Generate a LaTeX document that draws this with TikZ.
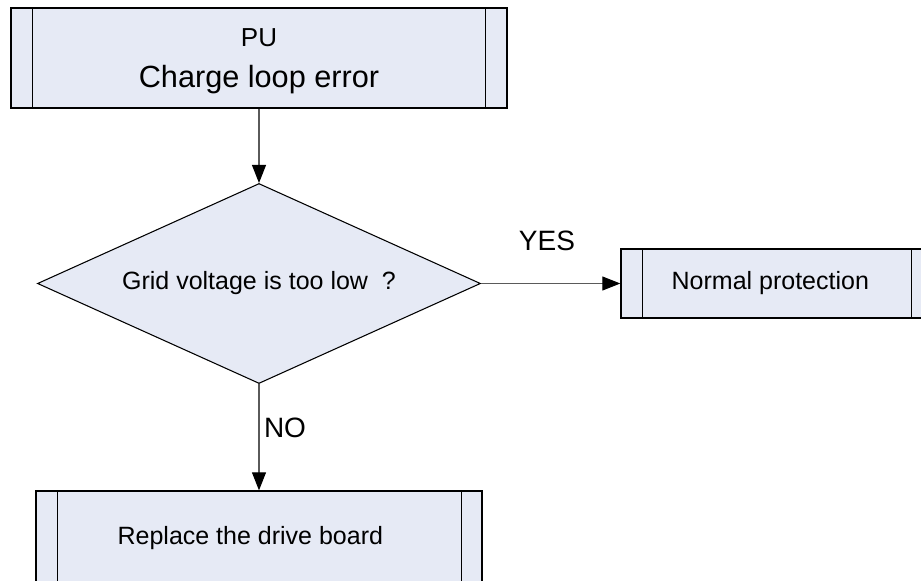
\documentclass[tikz,border=0pt]{standalone}
\usepackage{fontspec}
\setmainfont{Liberation Sans}
\usetikzlibrary{shapes.geometric,arrows.meta}
\definecolor{boxfill}{HTML}{E6EAF5}
\definecolor{linegray}{HTML}{5A5A5A}
\begin{document}
\begin{tikzpicture}[x=0.75pt,y=-0.75pt,
  procbox/.style={rectangle,draw=black,fill=boxfill,line width=1pt,inner sep=0pt,align=center,
    font=\fontsize{18.75pt}{22pt}\selectfont},
  decbox/.style={diamond,draw=black,fill=boxfill,line width=0.8pt,inner sep=0pt,aspect=2.215,
    minimum width=332.25pt,minimum height=150pt,font=\fontsize{18.75pt}{22pt}\selectfont},
  conn/.style={draw=linegray,line width=0.8pt,-{Triangle[length=13.5pt,width=10.5pt,color=black]}},
  lbl/.style={inner sep=0pt,font=\fontsize{21pt}{24pt}\selectfont},
  innerline/.style={draw=black,line width=0.8pt}]
\useasboundingbox (0,0) rectangle (921,581);
\clip (0,0) rectangle (921,581);
% top box
\node[procbox,minimum width=372pt,minimum height=75pt] (top) at (259,58) {};
\node[inner sep=0pt,align=center] (toptxt) at (259,61)
  {{\fontsize{19.5pt}{22pt}\selectfont PU}\\[13pt]{\fontsize{23pt}{27pt}\selectfont Charge loop error}};
\draw[innerline] ([xshift=16.5pt]top.north west) -- ([xshift=16.5pt]top.south west);
\draw[innerline] ([xshift=-16.5pt]top.north east) -- ([xshift=-16.5pt]top.south east);
% decision
\node[decbox] (dec) at (259,283.5) {Grid voltage is too low\ \ ?};
% right box
\node[procbox,minimum width=234pt,minimum height=51.75pt] (norm) at (777,283.5)
  {Normal protection\hspace*{10pt}};
\draw[innerline] ([xshift=16.5pt]norm.north west) -- ([xshift=16.5pt]norm.south west);
\draw[innerline] ([xshift=-16.5pt]norm.north east) -- ([xshift=-16.5pt]norm.south east);
% bottom box
\node[procbox,minimum width=334.5pt,minimum height=70.5pt] (repl) at (259,538)
  {Replace the drive board\hspace*{13pt}};
\draw[innerline] ([xshift=16.5pt]repl.north west) -- ([xshift=16.5pt]repl.south west);
\draw[innerline] ([xshift=-16pt]repl.north east) -- ([xshift=-16pt]repl.south east);
% connectors
\draw[conn] (top.south) -- (dec.north);
\draw[conn] (dec.east) -- (norm.west);
\draw[conn] (dec.south) -- (repl.north);
% labels
\node[lbl] (yes) at (547,241) {YES};
\node[lbl] (no) at (285,428) {NO};
\end{tikzpicture}
\end{document}
